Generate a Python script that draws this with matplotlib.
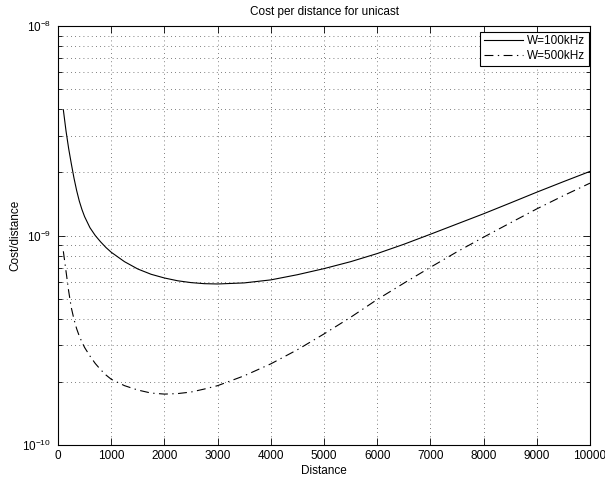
import matplotlib
matplotlib.use("Agg")
import matplotlib.pyplot as plt
from matplotlib.ticker import LogLocator, FixedLocator, NullFormatter

plt.rcParams['font.family'] = ['Liberation Sans', 'DejaVu Sans']
plt.rcParams['mathtext.fontset'] = 'custom'
plt.rcParams['mathtext.rm'] = 'Liberation Sans'

# Distance samples (m)
distance = [100, 150, 200, 250, 300, 350, 400, 450, 500, 600, 700, 800, 900,
            1000, 1250, 1500, 1750, 2000, 2250, 2500, 2750, 3000, 3500, 4000,
            4500, 5000, 5500, 6000, 6500, 7000, 7500, 8000, 8500, 9000, 9500,
            10000]

# Cost per distance, W = 100 kHz
cost_100k = [3.98e-9, 3.16e-9, 2.60e-9, 2.20e-9, 1.88e-9, 1.64e-9, 1.46e-9,
             1.33e-9, 1.23e-9, 1.09e-9, 1.00e-9, 9.33e-10, 8.77e-10,
             8.32e-10, 7.50e-10, 6.92e-10, 6.53e-10, 6.27e-10, 6.08e-10,
             5.96e-10, 5.89e-10, 5.87e-10, 5.94e-10, 6.14e-10, 6.50e-10,
             6.95e-10, 7.50e-10, 8.20e-10, 9.08e-10, 1.014e-9, 1.135e-9,
             1.27e-9, 1.429e-9, 1.61e-9, 1.807e-9, 2.023e-9]

# Cost per distance, W = 500 kHz
cost_500k = [8.41e-10, 6.76e-10, 5.43e-10, 4.52e-10, 3.98e-10, 3.59e-10,
             3.31e-10, 3.10e-10, 2.92e-10, 2.66e-10, 2.45e-10, 2.29e-10,
             2.16e-10, 2.06e-10, 1.92e-10, 1.83e-10, 1.77e-10, 1.75e-10,
             1.76e-10, 1.79e-10, 1.85e-10, 1.92e-10, 2.14e-10, 2.44e-10,
             2.85e-10, 3.39e-10, 4.07e-10, 4.95e-10, 5.92e-10, 7.05e-10,
             8.36e-10, 9.82e-10, 1.148e-9, 1.34e-9, 1.549e-9, 1.778e-9]

x_ticks = [0, 1000, 2000, 3000, 4000, 5000, 6000, 7000, 8000, 9000, 10000]

FS = 8.5

fig = plt.figure(figsize=(6.05, 4.78), dpi=100)
ax = fig.add_axes([0.0959, 0.069, 0.8793, 0.8766])

ax.plot(distance, cost_100k, color='black', lw=0.8, label='W=100kHz')
ax.plot(distance, cost_500k, color='black', lw=0.8,
        linestyle=(0, (8, 4, 1.2, 4)), label='W=500kHz')

ax.set_yscale('log')
ax.set_xlim(0, 10000)
ax.set_ylim(1e-10, 1e-8)
ax.xaxis.set_major_locator(FixedLocator(x_ticks))
ax.set_xticklabels([str(t) for t in x_ticks])
ax.yaxis.set_major_locator(LogLocator(base=10, numticks=10))
ax.yaxis.set_minor_locator(LogLocator(base=10, subs=range(2, 10), numticks=20))
ax.yaxis.set_minor_formatter(NullFormatter())

ax.tick_params(which='both', direction='in', top=True, right=True,
               labelsize=FS, width=0.6)
ax.tick_params(which='major', length=5)
ax.tick_params(which='minor', length=3)
ax.tick_params(axis='y', which='major', pad=5)

grid_kw = dict(color='#555555', linestyle=(0, (1, 4)), linewidth=0.6)
ax.grid(True, which='major', axis='both', **grid_kw)
ax.grid(True, which='minor', axis='y', **grid_kw)

for s in ax.spines.values():
    s.set_linewidth(0.8)

ax.set_title('Cost per distance for unicast', fontsize=FS, pad=8)
ax.set_xlabel('Distance', fontsize=FS, labelpad=2.5)
ax.set_ylabel('Cost/distance', fontsize=FS, labelpad=0.5)

leg = ax.legend(loc='upper right', bbox_to_anchor=(0.998, 0.986),
                fontsize=FS, frameon=True, fancybox=False,
                edgecolor='black', framealpha=1, handlelength=3.3,
                borderpad=0.3, labelspacing=0.25, handletextpad=0.4,
                borderaxespad=0.0)
leg.get_frame().set_linewidth(0.8)

fig.savefig('out.png', dpi=100)
